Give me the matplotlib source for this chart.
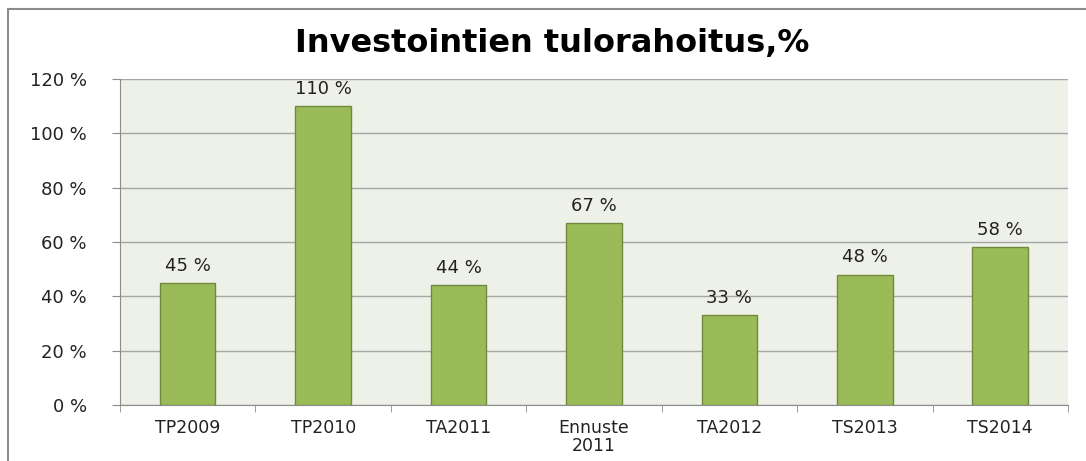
import matplotlib
matplotlib.use('Agg')
import matplotlib.pyplot as plt
from matplotlib.patches import Rectangle
import numpy as np

categories = ['TP2009', 'TP2010', 'TA2011', 'Ennuste\n2011', 'TA2012', 'TS2013', 'TS2014']
values = [45, 110, 44, 67, 33, 48, 58]
yticks = [0, 20, 40, 60, 80, 100, 120]

plt.rcParams['font.family'] = ['DejaVu Sans']

fig = plt.figure(figsize=(10.86, 4.61), dpi=100)
ax = fig.add_axes([0.1105, 0.1215, 0.8729, 0.7071])

# outer chart frame
fig.patches.append(Rectangle((8 / 1086, -0.05), 1.2, 1 - 9 / 461 + 0.05,
                             transform=fig.transFigure, fill=False,
                             edgecolor='#8c8c8c', linewidth=1.5))

ax.set_facecolor('#eef1e8')
x = np.arange(len(categories))
bars = ax.bar(x, values, width=0.41, color='#9bbb59', edgecolor='#71893f', linewidth=1, zorder=3)

for b, v in zip(bars, values):
    ax.text(b.get_x() + b.get_width() / 2, v + 3, f'{v} %', ha='center', va='bottom',
            fontsize=13, color='#222222')

ax.set_xlim(-0.5, len(categories) - 0.5)
ax.set_ylim(0, 120)
ax.set_yticks(yticks)
ax.set_yticklabels([f'{t} %' for t in yticks], fontsize=13, color='#222222')
ax.set_xticks(x)
ax.set_xticklabels(categories, fontsize=12.5, color='#222222', linespacing=1.0)
ax.tick_params(axis='x', length=0, pad=10)
ax.set_xticks(np.arange(-0.5, len(categories)), minor=True)
ax.tick_params(axis='x', which='minor', length=5, color='#8c8c8c', direction='out')
ax.tick_params(axis='y', length=6, color='#8c8c8c', direction='out', pad=18)

ax.grid(axis='y', color='#a6a6a6', linewidth=1, zorder=0)
ax.set_axisbelow(True)
for s in ['top', 'right']:
    ax.spines[s].set_visible(False)
for s in ['left', 'bottom']:
    ax.spines[s].set_color('#8c8c8c')

fig.text(0.508, 0.905, 'Investointien tulorahoitus,%', ha='center', va='center',
         fontsize=23, fontweight='bold', color='#000000')

fig.savefig('out.png', dpi=100)
